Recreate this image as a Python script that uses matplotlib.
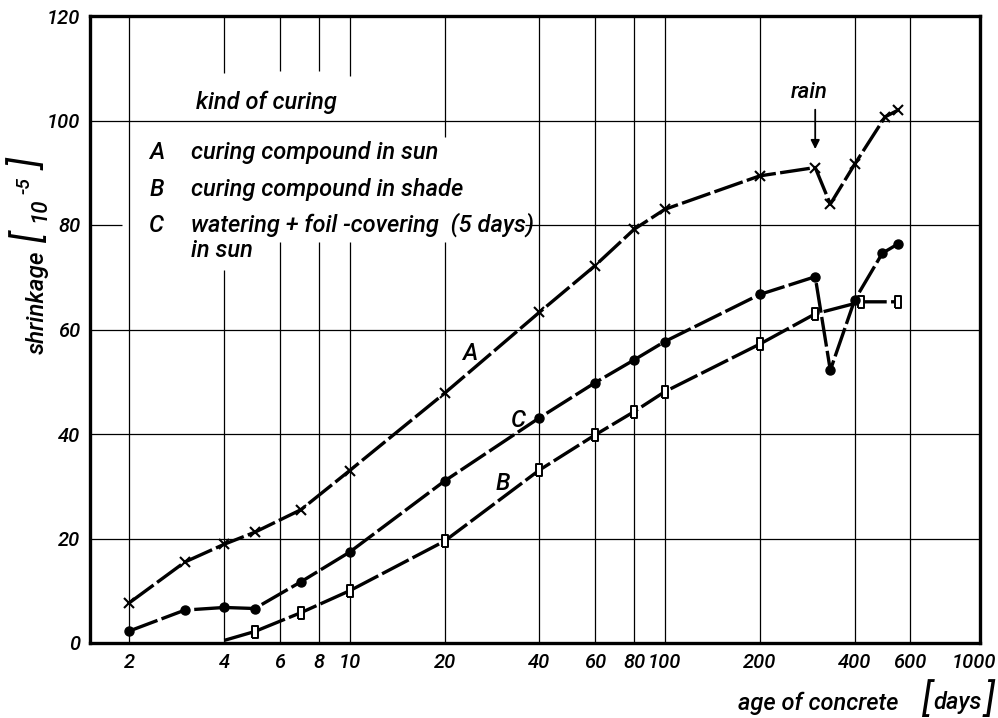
import matplotlib
matplotlib.use("Agg")
import matplotlib.pyplot as plt
from matplotlib.transforms import ScaledTranslation

plt.rcParams['font.family'] = ['Roboto', 'DejaVu Sans']
plt.rcParams['font.style'] = 'italic'
plt.rcParams['font.weight'] = 'medium'

# age of concrete [days] and shrinkage [10^-5]
a_age = [2, 3, 4, 5, 7, 10, 20, 40, 60, 80, 100, 200, 300, 335, 400, 500, 550]
a_shrink = [7.7, 15.5, 18.9, 21.2, 25.5, 33.0, 47.8, 63.3, 72.2, 79.2, 83.0,
            89.4, 91.0, 84.0, 91.6, 100.7, 102.0]

b_age = [4, 5, 7, 10, 20, 40, 60, 80, 100, 200, 300, 420, 550]
b_shrink = [0.5, 2.2, 5.8, 10.0, 19.5, 33.1, 39.8, 44.3, 48.1, 57.2, 63.0,
            65.3, 65.3]

c_age = [2, 3, 4, 5, 7, 10, 20, 40, 60, 80, 100, 200, 300, 335, 400, 490, 550]
c_shrink = [2.3, 6.3, 6.8, 6.6, 11.7, 17.4, 31.0, 43.1, 49.8, 54.2, 57.7,
            66.7, 70.1, 52.2, 65.6, 74.6, 76.4]

x_ticks = [2, 4, 6, 8, 10, 20, 40, 60, 80, 100, 200, 400, 600, 1000]
y_ticks = [0, 20, 40, 60, 80, 100, 120]

legend_rows = [("A", "curing compound in sun"),
               ("B", "curing compound in shade"),
               ("C", "watering + foil -covering  (5 days)")]

fig = plt.figure(figsize=(9.98, 7.18), dpi=100)
ax = fig.add_axes([90/998, 1 - 643/718, 890/998, 627/718])
ax.set_xscale("log")
ax.set_xlim(1.5, 1000)
ax.set_ylim(0, 120)

# grid, with the gaps the drawing leaves around the legend text
gk = dict(color="black", lw=0.9, zorder=1)
for y in [20, 40, 60, 100]:
    ax.hlines(y, 1.5, 1000, **gk)
ax.hlines(80, 1.5, 1.9, **gk)
ax.hlines(80, 35.9, 1000, **gk)
gaps = {4: (71.4, 109.1), 6: (76.7, 109.5), 8: (76.7, 109.5),
        10: (76.7, 108.5), 20: (76.7, 96.8)}
for x in x_ticks[:-1]:
    if x in gaps:
        lo, hi = gaps[x]
        ax.vlines(x, 0, lo, **gk)
        ax.vlines(x, hi, 120, **gk)
    else:
        ax.vlines(x, 0, 120, **gk)

lk = dict(color="black", lw=2.4, dashes=(9, 1.3), zorder=3)
ax.plot(a_age, a_shrink, marker="x", ms=7, mew=1.5, **lk)
rect = [(-0.55, -1), (0.55, -1), (0.55, 1), (-0.55, 1), (-0.55, -1)]
ax.plot(b_age, b_shrink, marker=rect, ms=8, mew=1.4, mfc="white",
        mec="black", markevery=list(range(1, len(b_age))), **lk)
ax.plot(c_age, c_shrink, marker="o", ms=6.5, **lk)

ax.set_xticks(x_ticks)
ax.set_xticklabels([str(v) for v in x_ticks])
ax.minorticks_off()
ax.set_yticks(y_ticks)
ax.tick_params(length=0, labelsize=14.5, pad=7)
last = ax.get_xticklabels()[-1]
last.set_transform(last.get_transform() +
                   ScaledTranslation(-0.06, 0, fig.dpi_scale_trans))
for s in ax.spines.values():
    s.set_linewidth(2.4)

# legend and annotations
tk = dict(fontsize=17, va="center", zorder=4)
ax.text(3.26, 103.5, "kind of curing", **tk)
for i, (letter, desc) in enumerate(legend_rows):
    yy = [93.9, 86.8, 80.0][i]
    ax.text(2.31, yy, letter, **tk)
    ax.text(3.14, yy, desc, **tk)
ax.text(3.14, 75.2, "in sun", **tk)

ax.text(24.0, 55.4, "A", fontsize=17, ha="center", va="center")
ax.text(34.2, 42.5, "C", fontsize=17, ha="center", va="center")
ax.text(30.6, 30.6, "B", fontsize=17, ha="center", va="center")

ax.annotate("", xy=(300, 94.0), xytext=(300, 102.6),
            arrowprops=dict(arrowstyle="-|>", color="black", lw=1.3,
                            mutation_scale=13))
ax.text(288, 105.3, "rain", fontsize=16, ha="center", va="center")

# axis titles with big brackets
def ftext(px, py, s, size, rot=0, weight="medium"):
    fig.text(px/998, 1 - py/718, s, fontsize=size, rotation=rot,
             ha="center", va="center", weight=weight)

ftext(37, 302, "shrinkage", 17.5, 90)
ftext(30, 237, "[", 28, 90, "normal")
ftext(40, 210, "10", 16, 90)
ftext(24, 185, "-5", 14, 90)
ftext(30, 165, "]", 28, 90, "normal")

ftext(818, 703, "age of concrete", 17)
ftext(927, 700, "[", 28, 0, "normal")
ftext(958, 702, "days", 17)
ftext(990, 700, "]", 28, 0, "normal")

fig.savefig("out.png", dpi=100)
